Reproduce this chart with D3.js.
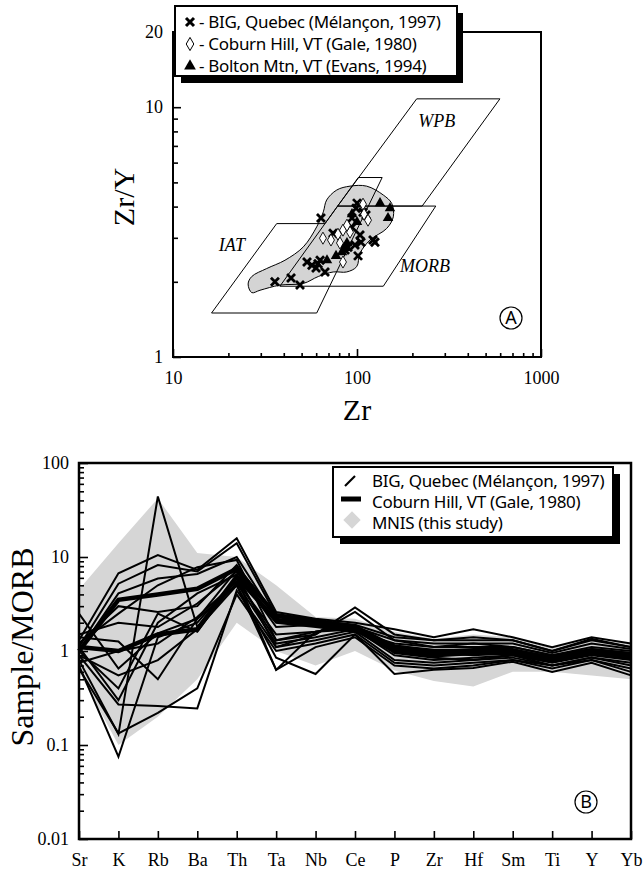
<!DOCTYPE html>
<html>
<head>
<meta charset="utf-8">
<script src="https://cdn.jsdelivr.net/npm/d3@7"></script>
<style>
body { margin: 0; background: #fff; }
svg { display: block; }
.num { font-family: "Liberation Serif", "Times New Roman", serif; font-size: 18px; fill: #000; }
.title { font-family: "Liberation Serif", "Times New Roman", serif; fill: #000; }
.field { font-family: "Liberation Serif", serif; font-style: italic; font-size: 18px; }
.leg { font-family: "Noto Sans", sans-serif; font-size: 17px; letter-spacing: -0.3px; }
</style>
</head>
<body>
<div id="chart"></div>
<script>
// ---------- panel A : Zr vs Zr/Y ----------
var bigZr    = [35.8, 43.8, 49.0, 63.7, 74.1, 53.5, 56.9, 59.9, 63.0, 67.0, 61.4, 100, 107.8, 93.9, 98.8, 103.8, 105.1, 122.2, 125.2, 101.3, 89.3, 86.1, 93.9, 111.9, 97.5];
var bigRatio = [2.00, 2.07, 1.94, 3.60, 3.13, 2.40, 2.33, 2.27, 2.44, 2.19, 2.36, 4.13, 3.80, 3.60, 3.94, 3.08, 2.88, 2.94, 2.88, 2.54, 2.75, 2.68, 3.31, 3.70, 2.81];
var coburnZr    = [65.3, 72.2, 83.9, 91.6, 107.8, 114.8, 83.9, 78.8, 88.2, 109.2, 80.8];
var coburnRatio = [2.99, 2.94, 3.22, 3.16, 4.09, 3.53, 2.40, 3.10, 3.37, 3.73, 2.86];
var boltonZr    = [133.4, 151.1, 147.4, 68.7, 100, 88.2, 82.9, 93.9, 86.1, 76.9];
var boltonRatio = [4.13, 3.94, 3.60, 2.44, 3.47, 2.86, 2.63, 3.73, 2.73, 2.54];

// tectonic fields (Zr, Zr/Y)
var wpbField  = [[211, 10.8], [598, 10.8], [226, 4.02], [78.5, 4.02]];
var morbField = [[78.5, 4.02], [268, 4.02], [139, 1.92], [38.1, 1.92]];
var iatField  = [[16.2, 1.5], [60.4, 1.5], [137, 5.23], [101.6, 5.23], [67, 3.42], [36.6, 3.42]];
var fieldNames = ['WPB', 'IAT', 'MORB'];
var fieldLabelAt = [[271, 8.87], [20.9, 2.81], [234, 2.33]];

// outline of the MNIS samples
var mnisOutline = [[26.8, 2.10], [32.3, 2.26], [40.6, 2.44], [51.1, 2.76], [60.4, 3.32], [65.6, 3.81], [68.4, 4.25],
    [77.6, 4.66], [91.6, 4.83], [112.9, 4.83], [139, 4.45], [154.4, 4.12], [157.5, 3.64], [145, 3.27],
    [117.7, 2.94], [103.8, 2.60], [99.6, 2.30], [87.9, 2.19], [74.3, 2.19], [61.6, 2.10], [51.1, 1.97],
    [38.2, 1.94], [29.7, 1.85], [26.8, 1.81], [25.6, 1.96]];

var zrLabels = [10, 100, 1000];
var ratioLabels = [1, 10, 20];

// ---------- panel B : MORB-normalised spider ----------
var elements = ['Sr', 'K', 'Rb', 'Ba', 'Th', 'Ta', 'Nb', 'Ce', 'P', 'Zr', 'Hf', 'Sm', 'Ti', 'Y', 'Yb'];
var mnisUpper = [4.5, 14, 42, 11, 10, 5.0, 2.3, 2.2, 1.6, 1.35, 1.5, 1.4, 1.1, 1.3, 1.2];
var mnisLower = [0.6, 0.1, 0.2, 0.5, 2.0, 1.0, 0.7, 1.0, 0.62, 0.48, 0.42, 0.6, 0.6, 0.55, 0.5];

var big1  = [1.3, 6.7, 10.5, 7.3, 15.8, 2.6, 2.2, 2.0, 1.7, 1.4, 1.7, 1.4, 1.1, 1.4, 1.2];
var big2  = [1.1, 5.2, 8.2, 7.0, 14.0, 2.4, 2.1, 1.9, 1.4, 1.3, 1.4, 1.3, 1.0, 1.3, 1.1];
var big3  = [1.0, 4.1, 5.9, 6.6, 10.0, 2.2, 2.0, 1.8, 1.3, 1.2, 1.2, 1.2, 0.95, 1.2, 1.05];
var big4  = [1.2, 2.5, 5.0, 7.8, 9.3, 1.3, 1.5, 2.9, 1.5, 1.3, 1.3, 1.3, 1.0, 1.35, 1.1];
var big5  = [0.8, 0.13, 44, 1.8, 5.3, 1.2, 1.4, 1.7, 1.0, 0.9, 0.95, 1.0, 0.8, 0.95, 0.85];
var big6  = [0.7, 0.075, 1.4, 2.0, 6.0, 0.63, 1.6, 1.7, 0.9, 0.8, 0.85, 0.9, 0.75, 0.9, 0.8];
var big7  = [1.4, 1.26, 0.5, 2.2, 5.0, 0.85, 0.57, 1.5, 0.75, 0.7, 0.75, 0.8, 0.7, 0.8, 0.65];
var big8  = [0.9, 0.27, 0.26, 0.245, 4.4, 1.1, 1.3, 1.6, 0.8, 0.75, 0.8, 0.85, 0.7, 0.85, 0.7];
var big9  = [0.65, 0.133, 0.22, 0.4, 4.0, 1.0, 1.2, 1.5, 0.57, 0.63, 0.66, 0.77, 0.6, 0.75, 0.55];
var big10 = [1.0, 0.4, 2.5, 1.6, 5.9, 1.3, 1.6, 1.8, 1.1, 1.0, 1.0, 1.0, 0.85, 1.0, 0.9];
var big11 = [2.5, 0.65, 1.54, 2.2, 7.3, 2.0, 1.8, 1.6, 1.2, 1.1, 1.1, 1.1, 0.9, 1.1, 1.0];
var big12 = [1.1, 0.3, 2.0, 4.1, 6.5, 1.1, 1.5, 2.6, 1.3, 1.1, 1.2, 1.1, 0.9, 1.05, 0.95];
var big13 = [0.75, 1.0, 1.2, 2.3, 5.5, 1.5, 1.6, 1.9, 0.95, 0.85, 0.8, 0.9, 0.7, 0.85, 0.75];
var big14 = [1.2, 3.0, 2.6, 3.0, 8.2, 2.3, 2.0, 1.7, 1.15, 1.0, 1.05, 1.05, 0.85, 1.05, 0.95];
var big15 = [0.9, 0.55, 0.8, 1.7, 5.0, 0.63, 1.1, 1.4, 0.7, 0.65, 0.7, 0.8, 0.65, 0.8, 0.6];
var big16 = [1.5, 2.0, 1.8, 3.2, 7.0, 1.8, 1.9, 1.8, 1.05, 0.95, 0.9, 0.95, 0.8, 0.95, 0.85];
var coburn1 = [1.0, 3.5, 4.0, 4.6, 7.5, 2.4, 2.1, 1.8, 1.1, 1.0, 1.0, 1.0, 0.85, 1.0, 0.9];
var coburn2 = [1.1, 1.0, 1.5, 1.7, 6.2, 2.1, 1.9, 1.7, 1.0, 0.9, 0.95, 0.95, 0.8, 0.95, 0.85];

var bigSamples = [big1, big2, big3, big4, big5, big6, big7, big8, big9, big10, big11, big12, big13, big14, big15, big16];
var coburnSamples = [coburn1, coburn2];
var normLabels = [0.01, 0.1, 1, 10, 100];

var legendA = ['- BIG, Quebec (Mélançon, 1997)', '- Coburn Hill, VT (Gale, 1980)', '- Bolton Mtn, VT (Evans, 1994)'];
var legendB = ['BIG, Quebec (Mélançon, 1997)', 'Coburn Hill, VT (Gale, 1980)', 'MNIS (this study)'];

var width = 644, height = 871;

var svg = d3.select('#chart').append('svg')
    .attr('width', width)
    .attr('height', height);

// ================= panel A =================
var xA = d3.scaleLog().domain([10, 1000]).range([173, 541]);
var yA = d3.scaleLog().domain([1, 20]).range([357, 32]);

var lineA = d3.line().x(d => xA(d[0])).y(d => yA(d[1]));

svg.append('path')
    .attr('d', d3.line().x(d => xA(d[0])).y(d => yA(d[1])).curve(d3.curveCatmullRomClosed.alpha(0.5))(mnisOutline))
    .attr('fill', '#d4d4d4')
    .attr('stroke', '#000')
    .attr('stroke-width', 1);

[wpbField, morbField, iatField].forEach(f => {
    svg.append('path')
        .attr('d', lineA(f) + 'Z')
        .attr('fill', 'none')
        .attr('stroke', '#000')
        .attr('stroke-width', 1);
});

svg.selectAll('.field')
    .data(fieldNames)
    .enter()
    .append('text')
    .attr('class', 'field')
    .attr('x', (d, i) => xA(fieldLabelAt[i][0]))
    .attr('y', (d, i) => yA(fieldLabelAt[i][1]))
    .attr('text-anchor', 'middle')
    .attr('dy', '0.35em')
    .text(d => d);

// points
var crossPath = 'M-4,-4L4,4M-4,4L4,-4';
svg.selectAll('.big')
    .data(bigZr)
    .enter()
    .append('path')
    .attr('class', 'big')
    .attr('transform', (d, i) => 'translate(' + xA(d) + ',' + yA(bigRatio[i]) + ')')
    .attr('d', crossPath)
    .attr('stroke', '#000')
    .attr('stroke-width', 2.8);

svg.selectAll('.coburn')
    .data(coburnZr)
    .enter()
    .append('path')
    .attr('class', 'coburn')
    .attr('transform', (d, i) => 'translate(' + xA(d) + ',' + yA(coburnRatio[i]) + ')')
    .attr('d', d3.symbol(d3.symbolDiamond, 42))
    .attr('fill', '#fff')
    .attr('stroke', '#000')
    .attr('stroke-width', 0.9);

svg.selectAll('.bolton')
    .data(boltonZr)
    .enter()
    .append('path')
    .attr('class', 'bolton')
    .attr('transform', (d, i) => 'translate(' + xA(d) + ',' + yA(boltonRatio[i]) + ')')
    .attr('d', d3.symbol(d3.symbolTriangle, 48))
    .attr('fill', '#000');

// axes A
var axXminor = svg.append('g')
    .attr('transform', 'translate(0,' + yA(1) + ')')
    .call(d3.axisBottom(xA).tickValues(xA.ticks().filter(d => zrLabels.indexOf(d) < 0)).tickSize(-4).tickFormat(''));
var axX = svg.append('g')
    .attr('transform', 'translate(0,' + yA(1) + ')')
    .call(d3.axisBottom(xA).tickValues(zrLabels).tickSize(-8).tickPadding(14).tickFormat(d3.format('d')));
var axYminor = svg.append('g')
    .attr('transform', 'translate(' + xA(10) + ',0)')
    .call(d3.axisLeft(yA).tickValues(yA.ticks().filter(d => ratioLabels.indexOf(d) < 0)).tickSize(-5).tickFormat(''));
var axY = svg.append('g')
    .attr('transform', 'translate(' + xA(10) + ',0)')
    .call(d3.axisLeft(yA).tickValues(ratioLabels).tickSize(-8).tickPadding(10).tickFormat(d3.format('d')));

[axXminor, axX, axYminor, axY].forEach(a => {
    a.select('.domain').remove();
    a.selectAll('line').attr('stroke-width', 1.6);
    a.selectAll('text').attr('class', 'num').attr('font-size', null).attr('font-family', null);
});

svg.append('rect')
    .attr('x', xA(10)).attr('y', yA(20))
    .attr('width', xA(1000) - xA(10)).attr('height', yA(1) - yA(20))
    .attr('fill', 'none').attr('stroke', '#000').attr('stroke-width', 2);

svg.append('text')
    .attr('class', 'title')
    .attr('transform', 'translate(123,197) rotate(-90)')
    .attr('text-anchor', 'middle')
    .attr('dy', '0.35em')
    .attr('font-size', 30)
    .text('Zr/Y');

svg.append('text')
    .attr('class', 'title')
    .attr('x', xA(100)).attr('y', 420)
    .attr('text-anchor', 'middle')
    .attr('font-size', 30)
    .text('Zr');

// legend A
var legA = svg.append('g').attr('transform', 'translate(175,6)');
legA.append('rect').attr('x', 6).attr('y', 7).attr('width', 282).attr('height', 70).attr('fill', '#000');
legA.append('rect').attr('x', 0).attr('y', 0).attr('width', 282).attr('height', 70)
    .attr('fill', '#fff').attr('stroke', '#000').attr('stroke-width', 2);
legA.selectAll('text')
    .data(legendA)
    .enter()
    .append('text')
    .attr('class', 'leg')
    .attr('x', 24)
    .attr('y', (d, i) => 22 + i * 22)
    .text(d => d);
legA.append('path').attr('transform', 'translate(15,16)').attr('d', crossPath).attr('stroke', '#000').attr('stroke-width', 3);
legA.append('path').attr('transform', 'translate(15,38)').attr('d', d3.symbol(d3.symbolDiamond, 50))
    .attr('fill', '#fff').attr('stroke', '#000').attr('stroke-width', 1);
legA.append('path').attr('transform', 'translate(15,60)').attr('d', d3.symbol(d3.symbolTriangle, 60)).attr('fill', '#000');

// circled A
svg.append('circle').attr('cx', 511).attr('cy', 318).attr('r', 11).attr('fill', 'none').attr('stroke', '#000').attr('stroke-width', 1.2);
svg.append('text').attr('x', 511).attr('y', 318).attr('dy', '0.36em').attr('text-anchor', 'middle')
    .attr('font-family', 'Noto Sans, sans-serif').attr('font-size', 18).text('A');

// ================= panel B =================
var xB = d3.scalePoint().domain(elements).range([79, 631]);
var yB = d3.scaleLog().domain([0.01, 100]).range([839, 463]);

svg.append('path')
    .attr('d', d3.area().x((d, i) => xB(elements[i])).y0((d, i) => yB(mnisLower[i])).y1(d => yB(d))(mnisUpper))
    .attr('fill', '#d6d6d6');

var spider = d3.line().x((d, i) => xB(elements[i])).y(d => yB(d));

svg.selectAll('.bigline')
    .data(bigSamples)
    .enter()
    .append('path')
    .attr('class', 'bigline')
    .attr('d', spider)
    .attr('fill', 'none')
    .attr('stroke', '#000')
    .attr('stroke-width', 2)
    .attr('stroke-linejoin', 'miter');

svg.selectAll('.cobline')
    .data(coburnSamples)
    .enter()
    .append('path')
    .attr('class', 'cobline')
    .attr('d', spider)
    .attr('fill', 'none')
    .attr('stroke', '#000')
    .attr('stroke-width', 4.5);

var axBx = svg.append('g')
    .attr('transform', 'translate(0,' + yB(0.01) + ')')
    .call(d3.axisBottom(xB).tickSize(-8).tickPadding(14));
var axByMinor = svg.append('g')
    .attr('transform', 'translate(' + xB('Sr') + ',0)')
    .call(d3.axisLeft(yB).tickValues(yB.ticks().filter(d => normLabels.indexOf(d) < 0)).tickSize(-5).tickFormat(''));
var axBy = svg.append('g')
    .attr('transform', 'translate(' + xB('Sr') + ',0)')
    .call(d3.axisLeft(yB).tickValues(normLabels).tickSize(-9).tickPadding(10).tickFormat(d => String(d)));

[axBx, axByMinor, axBy].forEach(a => {
    a.select('.domain').remove();
    a.selectAll('line').attr('stroke-width', 1.6);
    a.selectAll('text').attr('class', 'num').attr('font-size', null).attr('font-family', null);
});

svg.append('rect')
    .attr('x', xB('Sr')).attr('y', yB(100))
    .attr('width', xB('Yb') - xB('Sr')).attr('height', yB(0.01) - yB(100))
    .attr('fill', 'none').attr('stroke', '#000').attr('stroke-width', 2.5);

svg.append('text')
    .attr('class', 'title')
    .attr('transform', 'translate(22,647) rotate(-90)')
    .attr('text-anchor', 'middle')
    .attr('dy', '0.35em')
    .attr('font-size', 32)
    .text('Sample/MORB');

// legend B
var legB = svg.append('g').attr('transform', 'translate(333,467)');
legB.append('rect').attr('x', 7).attr('y', 7).attr('width', 280).attr('height', 70).attr('fill', '#000');
legB.append('rect').attr('x', 0).attr('y', 0).attr('width', 280).attr('height', 70)
    .attr('fill', '#fff').attr('stroke', '#000').attr('stroke-width', 2);
legB.selectAll('text')
    .data(legendB)
    .enter()
    .append('text')
    .attr('class', 'leg')
    .attr('x', 39)
    .attr('y', (d, i) => 20 + i * 21)
    .text(d => d);
legB.append('line').attr('x1', 12).attr('y1', 19).attr('x2', 22).attr('y2', 9).attr('stroke', '#000').attr('stroke-width', 2.2);
legB.append('line').attr('x1', 8).attr('y1', 32).attr('x2', 28).attr('y2', 32).attr('stroke', '#000').attr('stroke-width', 5);
legB.append('path').attr('d', d3.symbol(d3.symbolSquare, 150)).attr('transform', 'translate(19,53) rotate(45)')
    .attr('fill', '#d6d6d6');

// circled B
svg.append('circle').attr('cx', 586).attr('cy', 802).attr('r', 11).attr('fill', 'none').attr('stroke', '#000').attr('stroke-width', 1.2);
svg.append('text').attr('x', 586).attr('y', 802).attr('dy', '0.36em').attr('text-anchor', 'middle')
    .attr('font-family', 'Noto Sans, sans-serif').attr('font-size', 18).text('B');
</script>
</body>
</html>
